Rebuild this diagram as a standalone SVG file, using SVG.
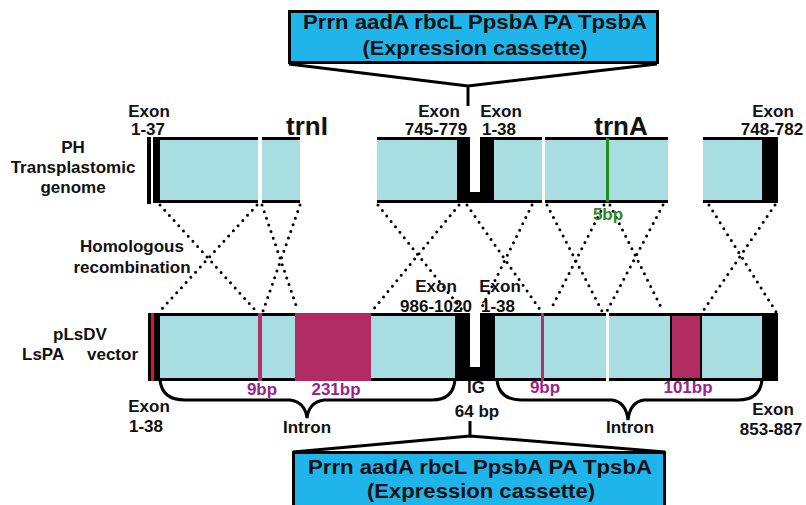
<svg xmlns="http://www.w3.org/2000/svg" width="806" height="505" viewBox="0 0 806 505">
<style>
text{font-family:"Liberation Sans",Arial,sans-serif;font-weight:bold;fill:#111}
.lb{font-size:17px}
.gene{font-size:26px}
.bx{font-size:21px}
.mg{fill:#9a2486}
.gr{fill:#2a8a2a}
.cy{fill:#a8dde1}
.bk{fill:#000}
.mb{fill:#b12c63}
.dot{stroke:#000;stroke-width:3;stroke-linecap:round;stroke-dasharray:0 7;fill:none}
.ln{stroke:#000;stroke-width:3;fill:none}
.box{fill:#1fb5ea;stroke:#000;stroke-width:3}
</style>
<rect width="806" height="505" fill="#fff"/>

<g id="genome-row">
<rect class="bk" x="147" y="137" width="4" height="67"/>
<rect class="bk" x="153" y="137" width="7" height="66"/>
<rect class="bk" x="153" y="137" width="105" height="3"/>
<rect class="bk" x="153" y="200" width="105" height="3"/>
<rect class="cy" x="160" y="140" width="98" height="60"/>
<rect class="bk" x="262" y="137" width="38" height="3"/>
<rect class="bk" x="262" y="200" width="38" height="3"/>
<rect class="cy" x="262" y="140" width="38" height="60"/>
<rect class="bk" x="377" y="137" width="80" height="3"/>
<rect class="bk" x="377" y="200" width="80" height="3"/>
<rect class="cy" x="377" y="140" width="80" height="60"/>
<path class="bk" d="M457,137H470V192H480V137H494V203H457Z"/>
<rect class="bk" x="494" y="137" width="48" height="3"/>
<rect class="bk" x="494" y="200" width="48" height="3"/>
<rect class="cy" x="494" y="140" width="48" height="60"/>
<rect class="bk" x="545" y="137" width="123" height="3"/>
<rect class="bk" x="545" y="200" width="123" height="3"/>
<rect class="cy" x="545" y="140" width="123" height="60"/>
<rect x="606" y="138" width="3" height="64" fill="#1e8c1e"/>
<rect class="bk" x="703" y="137" width="59" height="3"/>
<rect class="bk" x="703" y="200" width="59" height="3"/>
<rect class="cy" x="703" y="140" width="59" height="60"/>
<rect class="bk" x="762" y="137" width="16" height="66"/>
</g>

<g id="vector-row">
<rect class="bk" x="148" y="313" width="630" height="68"/>
<rect x="151" y="313" width="3" height="68" fill="#e0141c"/>
<rect class="cy" x="160" y="316" width="98" height="62"/>
<rect x="258" y="313" width="4" height="68" fill="#b0306a"/>
<rect class="cy" x="262" y="316" width="33" height="62"/>
<rect class="mb" x="295" y="313" width="76" height="68"/>
<rect class="cy" x="371" y="316" width="84" height="62"/>
<rect x="470" y="313" width="10" height="54" fill="#fff"/>
<rect class="cy" x="495" y="316" width="175" height="62"/>
<rect x="541" y="313" width="3" height="68" fill="#b0306a"/>
<rect x="606" y="313" width="3" height="68" fill="#fff"/>
<rect class="mb" x="672" y="316" width="28" height="62"/>
<rect class="cy" x="702" y="316" width="60" height="62"/>
</g>

<g id="top-cassette">
<rect class="box" x="289.5" y="11.5" width="368" height="51"/>
<text class="bx" x="475" y="29" text-anchor="middle" textLength="344" lengthAdjust="spacingAndGlyphs">Prrn aadA rbcL PpsbA PA TpsbA</text>
<text class="bx" x="475" y="55" text-anchor="middle" textLength="225" lengthAdjust="spacingAndGlyphs">(Expression cassette)</text>
</g>

<g id="bottom-cassette">
<rect class="box" x="293.5" y="452.5" width="371" height="60"/>
<text class="bx" x="480" y="474" text-anchor="middle" textLength="344" lengthAdjust="spacingAndGlyphs">Prrn aadA rbcL PpsbA PA TpsbA</text>
<text class="bx" x="481" y="498" text-anchor="middle" textLength="228" lengthAdjust="spacingAndGlyphs">(Expression cassette)</text>
</g>

<g id="connectors">
<path class="ln" d="M289,64L468,86L657,64M468,86V106"/>
<path class="ln" d="M293,452L470,436L665,452M470,436V421"/>
<path class="ln" d="M160,380Q162,400 185,400L290,400Q305,402 307,418Q309,402 324,400L432,400Q453,400 455,380"/>
<path class="ln" d="M497,380Q499,400 522,400L612,400Q626,402 628,420Q630,402 644,400L738,400Q760,400 762,380"/>
<g class="dot">
<line x1="160" y1="205" x2="256" y2="311"/>
<line x1="257" y1="205" x2="160" y2="311"/>
<line x1="262" y1="205" x2="298" y2="311"/>
<line x1="300" y1="205" x2="263" y2="311"/>
<line x1="378" y1="205" x2="463" y2="311"/>
<line x1="459" y1="205" x2="372" y2="311"/>
<line x1="467" y1="205" x2="541" y2="311"/>
<line x1="532" y1="205" x2="480" y2="311"/>
<line x1="547" y1="205" x2="602" y2="311"/>
<line x1="604" y1="205" x2="550" y2="311"/>
<line x1="610" y1="205" x2="663" y2="311"/>
<line x1="663" y1="205" x2="607" y2="311"/>
<line x1="709" y1="205" x2="778" y2="315"/>
<line x1="775" y1="205" x2="703" y2="311"/>
</g>
</g>

<g id="labels">
<text class="lb" x="149" y="117" text-anchor="middle">Exon</text>
<text class="lb" x="148" y="135" text-anchor="middle">1-37</text>
<text class="gene" x="307" y="135" text-anchor="middle">trnI</text>
<text class="lb" x="73" y="153" text-anchor="middle">PH</text>
<text class="lb" x="73" y="173" text-anchor="middle">Transplastomic</text>
<text class="lb" x="73" y="193" text-anchor="middle">genome</text>
<text class="lb" x="439" y="117" text-anchor="middle">Exon</text>
<text class="lb" x="436" y="135" text-anchor="middle">745-779</text>
<text class="lb" x="501" y="117" text-anchor="middle">Exon</text>
<text class="lb" x="499" y="135" text-anchor="middle">1-38</text>
<text class="gene" x="621" y="135" text-anchor="middle">trnA</text>
<text class="lb" x="773" y="117" text-anchor="middle">Exon</text>
<text class="lb" x="772" y="135" text-anchor="middle">748-782</text>
<text class="lb gr" x="608" y="220" text-anchor="middle">5bp</text>
<text class="lb" x="132" y="252" text-anchor="middle">Homologous</text>
<text class="lb" x="132" y="273" text-anchor="middle">recombination</text>
<text class="lb" x="436" y="292" text-anchor="middle">Exon</text>
<text class="lb" x="436" y="312" text-anchor="middle">986-1020</text>
<text class="lb" x="500" y="292" text-anchor="middle">Exon</text>
<text class="lb" x="498" y="312" text-anchor="middle">1-38</text>
<text class="lb" x="80" y="340" text-anchor="middle">pLsDV</text>
<text class="lb" x="22" y="360">LsPA</text>
<text class="lb" x="87" y="360">vector</text>
<text class="lb mg" x="262" y="395" text-anchor="middle">9bp</text>
<text class="lb mg" x="336" y="395" text-anchor="middle">231bp</text>
<text class="lb" x="476" y="393" text-anchor="middle">IG</text>
<text class="lb" x="477" y="417" text-anchor="middle">64 bp</text>
<text class="lb mg" x="545" y="393" text-anchor="middle">9bp</text>
<text class="lb mg" x="688" y="393" text-anchor="middle">101bp</text>
<text class="lb" x="149" y="412" text-anchor="middle">Exon</text>
<text class="lb" x="146" y="432" text-anchor="middle">1-38</text>
<text class="lb" x="307" y="433" text-anchor="middle">Intron</text>
<text class="lb" x="630" y="433" text-anchor="middle">Intron</text>
<text class="lb" x="773" y="415" text-anchor="middle">Exon</text>
<text class="lb" x="771" y="435" text-anchor="middle">853-887</text>
</g>
</svg>
